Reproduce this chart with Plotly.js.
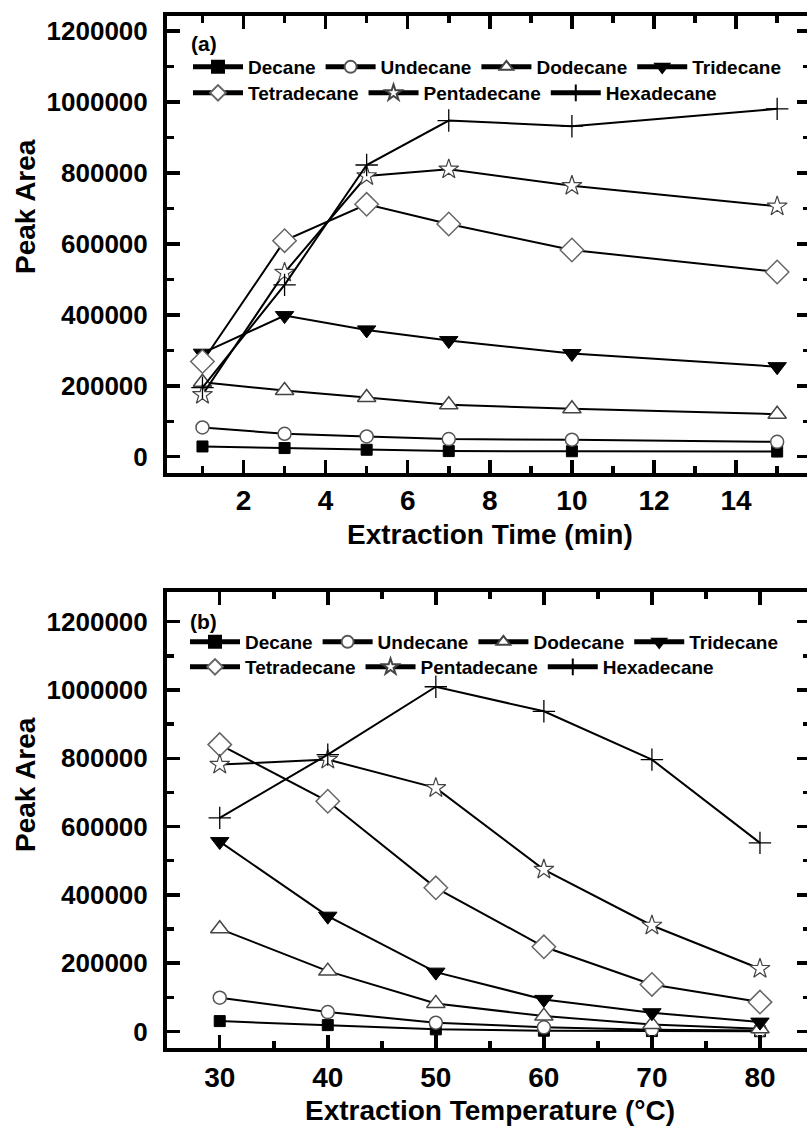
<!DOCTYPE html>
<html>
<head>
<meta charset="utf-8">
<script src="https://cdn.plot.ly/plotly-3.0.1.min.js"></script>
<style>
html, body { margin: 0; padding: 0; overflow: hidden; background: #fff; }
#chart { width: 814px; height: 1126px; }
</style>
</head>
<body>
<div id="chart"></div>
<script>
// ---- data ----
const seriesNames = ['Decane', 'Undecane', 'Dodecane', 'Tridecane', 'Tetradecane', 'Pentadecane', 'Hexadecane'];

const extractionTime = [1, 3, 5, 7, 10, 15];
const decaneTime      = [29000, 24500, 19700, 16000, 15500, 14600];
const undecaneTime    = [82500, 64800, 57200, 49800, 48000, 42000];
const dodecaneTime    = [210000, 186800, 167000, 146500, 135500, 120000];
const tridecaneTime   = [292000, 398000, 357700, 327600, 291000, 254000];
const tetradecaneTime = [268500, 609300, 711800, 656400, 583000, 521000];
const pentadecaneTime = [174700, 519200, 791600, 810400, 764000, 706000];
const hexadecaneTime  = [195000, 484500, 822600, 948000, 932000, 981000];

const extractionTemp = [30, 40, 50, 60, 70, 80];
const decaneTemp      = [30200, 18400, 6000, 2000, 1000, 500];
const undecaneTemp    = [98600, 56600, 25400, 12000, 5000, 3000];
const dodecaneTemp    = [300500, 176600, 82000, 44800, 20500, 8000];
const tridecaneTemp   = [556000, 337500, 173600, 93700, 54700, 27200];
const tetradecaneTemp = [840000, 674100, 420500, 247800, 137600, 85800];
const pentadecaneTemp = [781500, 796100, 713200, 474100, 310200, 183500];
const hexadecaneTemp  = [625400, 810700, 1009500, 937500, 796100, 552300];

const timeSeries = [decaneTime, undecaneTime, dodecaneTime, tridecaneTime, tetradecaneTime, pentadecaneTime, hexadecaneTime];
const tempSeries = [decaneTemp, undecaneTemp, dodecaneTemp, tridecaneTemp, tetradecaneTemp, pentadecaneTemp, hexadecaneTemp];

// legend rows as in the figure: first four names on row one, last three on row two
const legendRowTop = ['legend', 'legend', 'legend', 'legend', 'legend3', 'legend3', 'legend3'];
const legendRowBottom = ['legend2', 'legend2', 'legend2', 'legend2', 'legend4', 'legend4', 'legend4'];

// ---- styles ----
const FONT = 'Liberation Sans, Arial, sans-serif';
const markerStyles = [
  {symbol: 'square', size: 11, color: '#000', line: {color: '#000', width: 1}},
  {symbol: 'circle', size: 13, color: '#fff', line: {color: '#555', width: 1.5}},
  {symbol: 'triangle-up', size: 16, color: '#fff', line: {color: '#444', width: 1.5}},
  {symbol: 'triangle-down', size: 16, color: '#000', line: {color: '#000', width: 1}},
  {symbol: 'diamond', size: 18, color: '#fff', line: {color: '#666', width: 1.5}},
  {symbol: 'star', size: 15, color: '#fff', line: {color: '#444', width: 1.2}},
  {symbol: 'cross-thin', size: 16, color: '#000', line: {color: '#000', width: 1.3}}
];

const traces = [];
seriesNames.forEach((name, i) => {
  traces.push({
    type: 'scatter', mode: 'lines+markers', name: name,
    x: extractionTime, y: timeSeries[i], xaxis: 'x', yaxis: 'y',
    line: {color: '#000', width: 2},
    marker: markerStyles[i], legend: legendRowTop[i]
  });
});
seriesNames.forEach((name, i) => {
  traces.push({
    type: 'scatter', mode: 'lines+markers', name: name,
    x: extractionTemp, y: tempSeries[i], xaxis: 'x2', yaxis: 'y2',
    line: {color: '#000', width: 2},
    marker: markerStyles[i], legend: legendRowBottom[i]
  });
});

function axisBase(extra) {
  return Object.assign({
    showline: true, linewidth: 4, linecolor: '#000', mirror: 'ticks',
    ticks: 'inside', ticklen: 13, tickwidth: 3.5, tickcolor: '#000',
    showgrid: false, zeroline: false, fixedrange: true
  }, extra);
}

const W = 814, H = 1126, ML = 167, MR = 4, MT = 16, MB = 78;
const PW = W - ML - MR, PH = H - MT - MB;
const px = v => (v - ML) / PW;
const py = v => (H - MB - v) / PH;

function legendAt(xPix, yPix) {
  return {
    x: px(xPix), y: py(yPix),
    orientation: 'h', xanchor: 'left', yanchor: 'top',
    bgcolor: 'rgba(0,0,0,0)', borderwidth: 0, itemwidth: 50,
    font: {family: FONT, size: 19, color: '#000', weight: 'bold'},
    itemsizing: 'constant', itemclick: false, itemdoubleclick: false
  };
}

function titleAnn(text, xPix, yPix, angle) {
  return {text: text, xref: 'paper', yref: 'paper', x: px(xPix), y: py(yPix),
    xanchor: 'center', yanchor: 'middle', textangle: angle || 0, showarrow: false,
    font: {family: FONT, size: 28, color: '#000', weight: 'bold'}};
}

const layout = {
  width: W, height: H,
  margin: {l: ML, r: MR, t: MT, b: MB, pad: 0},
  paper_bgcolor: '#fff', plot_bgcolor: '#fff',
  font: {family: FONT, color: '#000'},
  showlegend: true,
  xaxis: axisBase({
    domain: [0, 1], anchor: 'y', range: [0.136, 15.8], tick0: 0, dtick: 2,
    minor: {ticks: 'inside', ticklen: 7, tickwidth: 3.5, tickcolor: '#000', tick0: 0, dtick: 1, showgrid: false},
    tickfont: {family: FONT, size: 28, color: '#000', weight: 'bold'}, ticklabelstandoff: 0
  }),
  yaxis: axisBase({
    domain: [py(472.7), 1], anchor: 'x', range: [-45000, 1242800], tick0: 0, dtick: 200000, tickformat: 'd',
    minor: {ticks: 'inside', ticklen: 7, tickwidth: 3.5, tickcolor: '#000', tick0: 0, dtick: 100000, showgrid: false},
    tickfont: {family: FONT, size: 26, color: '#000', weight: 'bold'}, ticklabelstandoff: 10
  }),
  xaxis2: axisBase({
    domain: [0, 1], anchor: 'y2', range: [25.12, 84.63], tick0: 0, dtick: 10,
    minor: {ticks: 'inside', ticklen: 7, tickwidth: 3.5, tickcolor: '#000', tick0: 0, dtick: 5, showgrid: false},
    tickfont: {family: FONT, size: 28, color: '#000', weight: 'bold'}, ticklabelstandoff: 1
  }),
  yaxis2: axisBase({
    domain: [0, py(592.3)], anchor: 'x2', range: [-48600, 1286100], tick0: 0, dtick: 200000, tickformat: 'd',
    minor: {ticks: 'inside', ticklen: 7, tickwidth: 3.5, tickcolor: '#000', tick0: 0, dtick: 100000, showgrid: false},
    tickfont: {family: FONT, size: 26, color: '#000', weight: 'bold'}, ticklabelstandoff: 10
  }),
  legend: legendAt(188, 48),
  legend3: legendAt(188, 74),
  legend2: legendAt(185, 623),
  legend4: legendAt(185, 648),
  annotations: [
    {text: '(a)', xref: 'paper', yref: 'paper', x: px(189), y: py(43), xanchor: 'left', yanchor: 'middle', showarrow: false,
     font: {family: FONT, size: 21, color: '#000', weight: 'bold'}},
    {text: '(b)', xref: 'paper', yref: 'paper', x: px(188), y: py(622), xanchor: 'left', yanchor: 'middle', showarrow: false,
     font: {family: FONT, size: 21, color: '#000', weight: 'bold'}},
    titleAnn('Peak Area', 25, 207, -90),
    titleAnn('Peak Area', 25, 785, -90),
    titleAnn('Extraction Time (min)', 490, 534, 0),
    titleAnn('Extraction Temperature (°C)', 490, 1111, 0)
  ]
};

Plotly.newPlot('chart', traces, layout, {staticPlot: true, displayModeBar: false});
</script>
</body>
</html>
